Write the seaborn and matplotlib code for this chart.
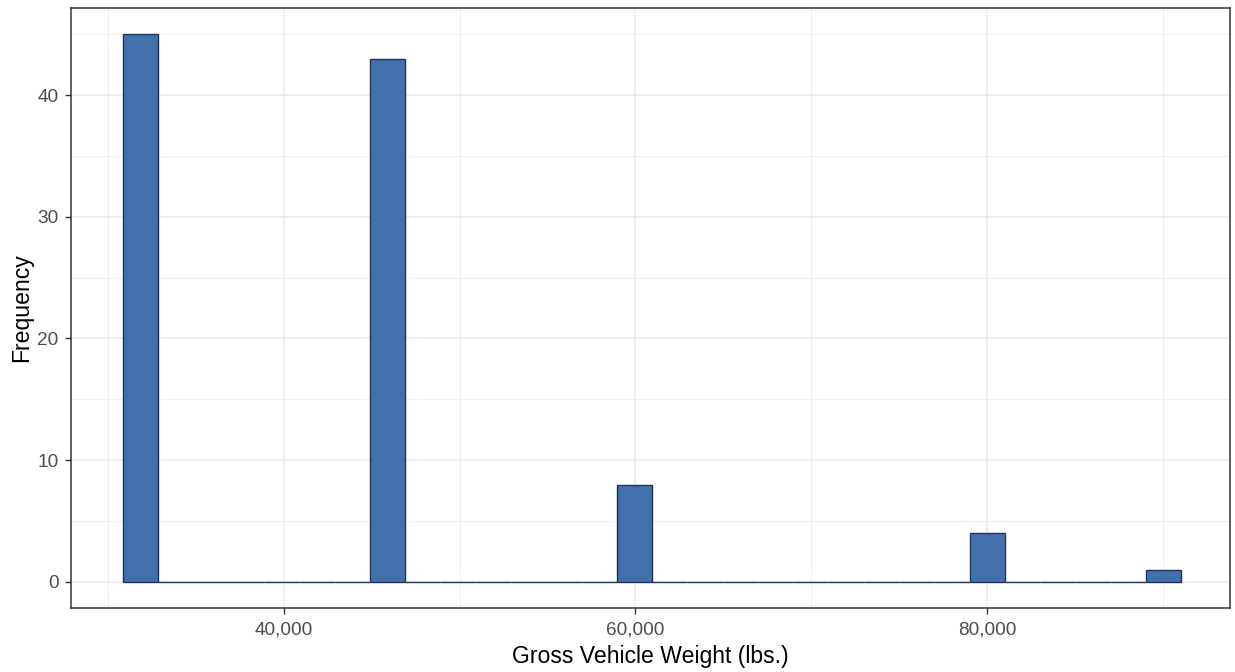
import numpy as np
import pandas as pd
import seaborn as sns
import matplotlib
matplotlib.use("Agg")
import matplotlib.pyplot as plt
from matplotlib.ticker import FuncFormatter

# Data: weight values and their counts
weights = [32000, 46000, 60000, 80000, 90000]
counts = [45, 43, 8, 4, 1]
n_bins = 30
bin_start = 30840
bin_width = 2007

x_ticks = [40000, 60000, 80000]
y_ticks = [0, 10, 20, 30, 40]

df = pd.DataFrame({"gvw": np.repeat(weights, counts)})

sns.set_theme(style="white")
plt.rcParams['font.family'] = ['Liberation Sans', 'DejaVu Sans']

W, H = 1235, 672
L, R, T, B = 71, 1230, 8, 608
fig = plt.figure(figsize=(W / 100, H / 100), dpi=100)
ax = fig.add_axes([L / W, 1 - B / H, (R - L) / W, (B - T) / H])

edges = bin_start + bin_width * np.arange(n_bins + 1)
sns.histplot(data=df, x="gvw", bins=edges, ax=ax, stat="count",
             color="#4270AB", edgecolor="#1E3557", linewidth=1.0, alpha=1.0)

ax.set_xlim(27880, 93830)
ax.set_ylim(-2.14, 47.15)
ax.set_xticks(x_ticks)
ax.set_yticks(y_ticks)
ax.set_xticks([30000, 50000, 70000, 90000], minor=True)
ax.set_yticks([5, 15, 25, 35, 45], minor=True)
ax.xaxis.set_major_formatter(FuncFormatter(lambda v, p: f"{int(v):,}"))

ax.grid(which="major", color="#EBEBEB", linewidth=1.1)
ax.grid(which="minor", color="#EBEBEB", linewidth=0.6)
ax.set_axisbelow(True)

for s in ax.spines.values():
    s.set_color("#333333")
    s.set_linewidth(1.1)

ax.tick_params(axis="both", which="major", length=4.5, width=1.0, color="#333333",
               labelsize=13.7, labelcolor="#4D4D4D", pad=5.5, bottom=True, left=True)
ax.tick_params(axis="y", which="major", pad=4.5)
ax.tick_params(axis="both", which="minor", length=0)

ax.set_xlabel("Gross Vehicle Weight (lbs.)", fontsize=16.6, color="black")
ax.set_ylabel("Frequency", fontsize=16.6, color="black")
ax.xaxis.label.set_va("center")
ax.xaxis.label.set_ha("center")
ax.xaxis.set_label_coords(0.5, (B - 657) / (B - T))
ax.yaxis.label.set_va("center")
ax.yaxis.label.set_ha("center")
ax.yaxis.label.set_rotation_mode("anchor")
ax.yaxis.set_label_coords((22 - L) / (R - L), 0.5)

fig.savefig("out.png", dpi=100, facecolor="white")
